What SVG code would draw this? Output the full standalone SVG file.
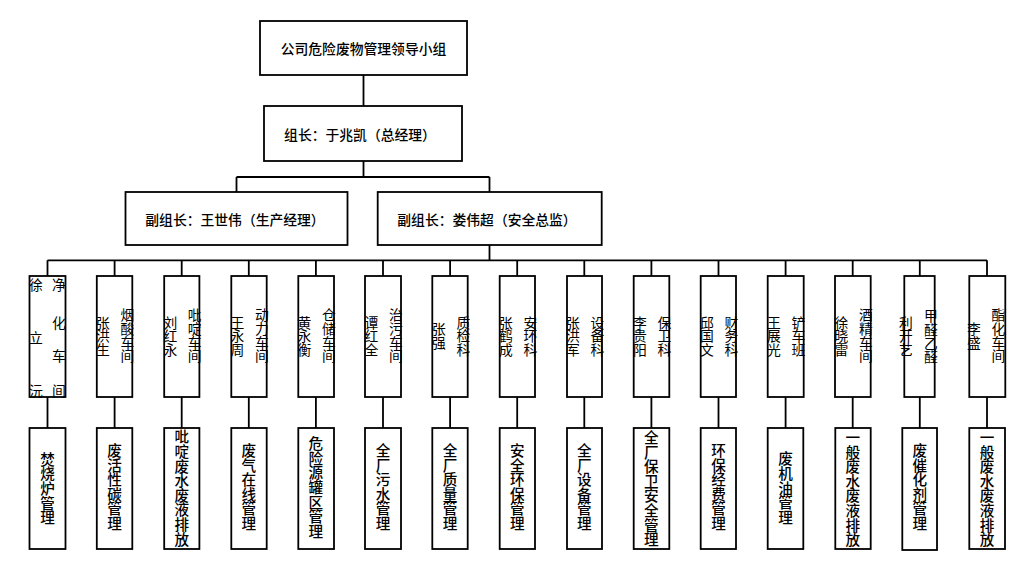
<svg xmlns="http://www.w3.org/2000/svg" width="1024" height="572" viewBox="0 0 1024 572">
<style>
.box{fill:#fff;stroke:#000;stroke-width:1.8}
.ln{stroke:#000;stroke-width:1.8;fill:none}
.t{font-family:"Noto Sans CJK SC","Noto Sans CJK JP",sans-serif;fill:#000}
.h{font-size:13.8px;text-anchor:middle;dominant-baseline:central;font-weight:500}
.v{font-size:13.8px;writing-mode:vertical-rl;text-anchor:middle;letter-spacing:-0.1px}
.lv{font-size:14.6px;writing-mode:vertical-rl;text-anchor:middle;font-weight:500}
.c{font-size:13.8px;text-anchor:middle;dominant-baseline:central}
</style>
<rect width="1024" height="572" fill="#fff"/>
<g id="connectors">
<path class="ln" d="M363.5 75V106M363.5 161V177M236.5 177H489.5M236.5 177V192M489.5 177V192M489.5 245V260.3M47.5 260.3H987"/>
<path class="ln" d="M47.5 260.3V276M114.6 260.3V276M181.7 260.3V276M248.8 260.3V276M315.9 260.3V276M383 260.3V276M450.1 260.3V276M517.2 260.3V276M584.3 260.3V276M651.4 260.3V276M718.5 260.3V276M785.6 260.3V276M852.7 260.3V276M919.8 260.3V276M987 260.3V276"/>
<path class="ln" d="M47.5 397V428M114.6 397V428M181.7 397V428M248.8 397V428M315.9 397V428M383 397V428M450.1 397V428M517.2 397V428M584.3 397V428M651.4 397V428M718.5 397V428M785.6 397V428M852.7 397V428M919.8 397V428M987 397V428"/>
</g>
<g id="n-top"><rect class="box" x="260" y="21" width="207" height="54"/><text class="t h" x="363.5" y="48">公司危险废物管理领导小组</text></g>
<g id="n-leader"><rect class="box" x="264" y="106" width="198" height="55"/><text class="t h" x="360" y="133.5">组长：于兆凯（总经理）</text></g>
<g id="n-dep1"><rect class="box" x="125.5" y="192" width="222" height="53"/><text class="t h" x="235" y="218.5">副组长：王世伟（生产经理）</text></g>
<g id="n-dep2"><rect class="box" x="377.7" y="192" width="224" height="53"/><text class="t h" x="487" y="218.5">副组长：娄伟超（安全总监）</text></g>

<g id="u1"><rect class="box" x="29.5" y="276" width="36" height="121"/>
<text class="t c" x="36" y="283.5">徐</text><text class="t c" x="36" y="336.5">立</text><text class="t c" x="36" y="389.5">沅</text>
<text class="t c" x="59" y="283.5">净</text><text class="t c" x="59" y="321.5">化</text><text class="t c" x="59" y="354.5">车</text><text class="t c" x="59" y="389.5">间</text></g>
<g id="u2"><rect class="box" x="96.8" y="276" width="35.5" height="121"/><text class="t v" x="103" y="336">张洪生</text><text class="t v" x="127.5" y="335.5">烟酸车间</text></g>
<g id="u3"><rect class="box" x="164.2" y="276" width="35.2" height="121"/><text class="t v" x="170.3" y="336">刘红永</text><text class="t v" x="194.7" y="335.5">吡啶车间</text></g>
<g id="u4"><rect class="box" x="231.3" y="276" width="35.4" height="121"/><text class="t v" x="237.5" y="336">王永周</text><text class="t v" x="261.8" y="335.5">动力车间</text></g>
<g id="u5"><rect class="box" x="298.3" y="276" width="35.7" height="121"/><text class="t v" x="304.5" y="336">黄永衡</text><text class="t v" x="329" y="335.5">仓储车间</text></g>
<g id="u6"><rect class="box" x="365" y="276" width="36" height="121"/><text class="t v" x="371.5" y="336">谭红全</text><text class="t v" x="396" y="335.5">治污车间</text></g>
<g id="u7"><rect class="box" x="432.3" y="276" width="35.4" height="121"/><text class="t v" x="439" y="336">张强</text><text class="t v" x="463.3" y="336">质检科</text></g>
<g id="u8"><rect class="box" x="499.7" y="276" width="35.3" height="121"/><text class="t v" x="506" y="336">张鹤成</text><text class="t v" x="530.5" y="336">安环科</text></g>
<g id="u9"><rect class="box" x="567" y="276" width="35" height="121"/><text class="t v" x="573" y="336">张洪军</text><text class="t v" x="597.5" y="336">设备科</text></g>
<g id="u10"><rect class="box" x="633.7" y="276" width="35.6" height="121"/><text class="t v" x="640" y="336">李贵阳</text><text class="t v" x="664.5" y="336">保卫科</text></g>
<g id="u11"><rect class="box" x="700.7" y="276" width="35.3" height="121"/><text class="t v" x="707" y="336">邱国文</text><text class="t v" x="731.5" y="336">财务科</text></g>
<g id="u12"><rect class="box" x="767.7" y="276" width="36" height="121"/><text class="t v" x="774" y="336">王展光</text><text class="t v" x="798.5" y="336">铲车班</text></g>
<g id="u13"><rect class="box" x="835" y="276" width="35.7" height="121"/><text class="t v" x="841.3" y="336">徐晓雷</text><text class="t v" x="865.8" y="335.5">酒精车间</text></g>
<g id="u14"><rect class="box" x="904.3" y="276" width="30.4" height="121"/><text class="t v" x="906" y="336">利开艺</text><text class="t v" x="931" y="336.5">甲醛乙醛</text></g>
<g id="u15"><rect class="box" x="969.3" y="276" width="36" height="121"/><text class="t v" x="974" y="336">李盛</text><text class="t v" x="998.3" y="335.5">酯化车间</text></g>

<g id="l1"><rect class="box" x="29.5" y="428" width="36" height="121"/><text class="t lv" x="47.5" y="488.5">焚烧炉管理</text></g>
<g id="l2"><rect class="box" x="96.8" y="428" width="35.5" height="121"/><text class="t lv" x="114.6" y="487">废活性碳管理</text></g>
<g id="l3"><rect class="box" x="164.2" y="428" width="35.2" height="121"/><text class="t lv" x="181.7" y="488">吡啶废水废液排放</text></g>
<g id="l4"><rect class="box" x="231.3" y="428" width="35.4" height="121"/><text class="t lv" x="248.8" y="487">废气在线管理</text></g>
<g id="l5"><rect class="box" x="298.3" y="428" width="35.7" height="121"/><text class="t lv" x="315.9" y="487.5">危险源罐区管理</text></g>
<g id="l6"><rect class="box" x="365" y="428" width="36" height="121"/><text class="t lv" x="383" y="487">全厂污水管理</text></g>
<g id="l7"><rect class="box" x="432.3" y="428" width="35.4" height="121"/><text class="t lv" x="450.1" y="487">全厂质量管理</text></g>
<g id="l8"><rect class="box" x="499.7" y="428" width="35.3" height="121"/><text class="t lv" x="517.2" y="487">安全环保管理</text></g>
<g id="l9"><rect class="box" x="567" y="428" width="35" height="121"/><text class="t lv" x="584.3" y="487">全厂设备管理</text></g>
<g id="l10"><rect class="box" x="633.7" y="428" width="35.6" height="121"/><text class="t lv" x="651.4" y="488.5">全厂保卫安全管理</text></g>
<g id="l11"><rect class="box" x="700.7" y="428" width="35.3" height="121"/><text class="t lv" x="718.5" y="487">环保经费管理</text></g>
<g id="l12"><rect class="box" x="767.7" y="428" width="35.6" height="121"/><text class="t lv" x="785.6" y="488">废机油管理</text></g>
<g id="l13"><rect class="box" x="835.3" y="428" width="35.4" height="121"/><text class="t lv" x="852.7" y="488.5">一般废水废液排放</text></g>
<g id="l14"><rect class="box" x="902.3" y="428" width="34.7" height="122"/><text class="t lv" x="919.8" y="487">废催化剂管理</text></g>
<g id="l15"><rect class="box" x="969.3" y="428" width="35.7" height="121"/><text class="t lv" x="987" y="488.5">一般废水废液排放</text></g>
</svg>
